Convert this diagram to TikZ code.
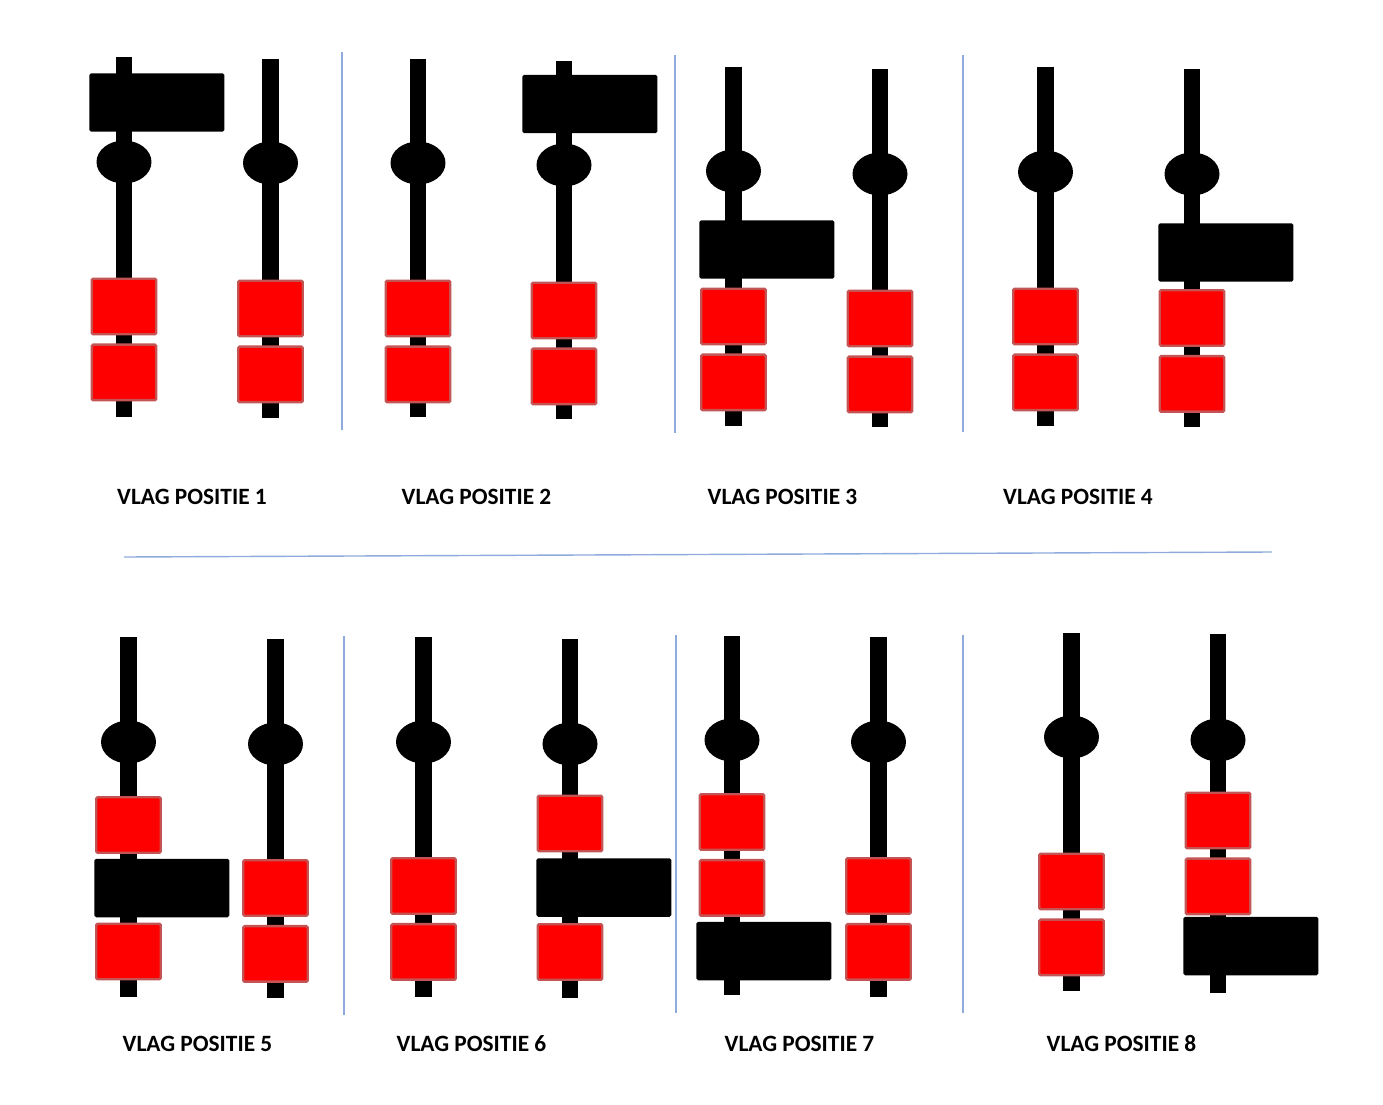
\documentclass[tikz,border=0pt]{standalone}
\usepackage{fontspec}
\setmainfont{Carlito}
\usetikzlibrary{shapes.geometric,positioning}
\definecolor{blokrand}{RGB}{196,84,84}
\definecolor{lijnblauw}{RGB}{143,170,220}

\begin{document}
\begin{tikzpicture}[
    x=0.02cm, y=-0.02cm,
    font=\fontsize{13.3}{15}\selectfont\bfseries,
    node distance=1.6mm,
    mast/.style={line width=9.6pt, line cap=butt, black},
    knop/.style={ellipse, fill=black, minimum width=1.1cm, minimum height=0.86cm, inner sep=0pt},
    blok/.style={draw=blokrand, fill=red, line width=1.4pt, rounded corners=0.8pt, minimum width=1.29cm, minimum height=1.11cm, inner sep=0pt},
    vlag/.style={fill=black, rounded corners=1pt, minimum width=2.7cm, minimum height=1.17cm, inner sep=0pt, anchor=west},
    scheiding/.style={draw=lijnblauw, line width=0.8pt},
    bijschrift/.style={inner sep=0pt}
]
\useasboundingbox (0,0) rectangle (1383,1105);

% masten met knop
\foreach \n/\x/\t/\b/\k in {1a/124/57/417/162, 1b/270.5/59/418/163,
    2a/418/59/417/163, 2b/564/61/419/165,
    3a/733.5/67/426/171, 3b/880/69/427/174,
    4a/1045.5/67/426/172, 4b/1192/69/427/174,
    5a/128.5/637/997/742, 5b/275.5/639/998/744,
    6a/423.5/637/997/742, 6b/570/639/998/744,
    7a/732/636/995/740, 7b/878.5/637/997/742,
    8a/1071.5/633/991/737, 8b/1218/634/993/740} {
  \coordinate (\n-top) at (\x,\t);
  \coordinate (\n-bot) at (\x,\b);
  \draw[mast] (\n-top) -- (\n-bot);
  \node[knop] (\n-knop) at (\x,\k) {};
}

% positie 1
\node[vlag] (1a-vlag) at (89,102.5) {};
\node[blok] (1a-r1) at (124,306.5) {};
\node[blok, below=of 1a-r1] (1a-r2) {};
\node[blok] (1b-r1) at (270.5,308.5) {};
\node[blok, below=of 1b-r1] (1b-r2) {};

% positie 2
\node[blok] (2a-r1) at (418,308.5) {};
\node[blok, below=of 2a-r1] (2a-r2) {};
\node[vlag] (2b-vlag) at (522,104) {};
\node[blok] (2b-r1) at (564,310.5) {};
\node[blok, below=of 2b-r1] (2b-r2) {};

% positie 3
\node[vlag] (3a-vlag) at (699,249.5) {};
\node[blok] (3a-r1) at (733.5,316.5) {};
\node[blok, below=of 3a-r1] (3a-r2) {};
\node[blok] (3b-r1) at (880,318.5) {};
\node[blok, below=of 3b-r1] (3b-r2) {};

% positie 4
\node[blok] (4a-r1) at (1045.5,316.5) {};
\node[blok, below=of 4a-r1] (4a-r2) {};
\node[vlag] (4b-vlag) at (1158,252.5) {};
\node[blok] (4b-r1) at (1192,318) {};
\node[blok, below=of 4b-r1] (4b-r2) {};

% positie 5
\node[blok] (5a-r1) at (128.5,825) {};
\node[vlag] (5a-vlag) at (94,888) {};
\node[blok] (5a-r2) at (128.5,951.5) {};
\node[blok] (5b-r1) at (275.5,888) {};
\node[blok, below=of 5b-r1] (5b-r2) {};

% positie 6
\node[blok] (6a-r1) at (423.5,886) {};
\node[blok, below=of 6a-r1] (6a-r2) {};
\node[blok] (6b-r1) at (570,823.5) {};
\node[vlag] (6b-vlag) at (536,887.5) {};
\node[blok] (6b-r2) at (570,952) {};

% positie 7
\node[blok] (7a-r1) at (732,822) {};
\node[blok, below=of 7a-r1] (7a-r2) {};
\node[vlag] (7a-vlag) at (696,951) {};
\node[blok] (7b-r1) at (878.5,886) {};
\node[blok, below=of 7b-r1] (7b-r2) {};

% positie 8
\node[blok] (8a-r1) at (1071.5,881.5) {};
\node[blok, below=of 8a-r1] (8a-r2) {};
\node[blok] (8b-r1) at (1218,820.5) {};
\node[blok, below=of 8b-r1] (8b-r2) {};
\node[vlag] (8b-vlag) at (1183,946) {};

% scheidingslijnen
\draw[scheiding] (342,52) -- (342,430);
\draw[scheiding] (675,55) -- (675,433);
\draw[scheiding] (963,55) -- (963,432);
\draw[scheiding] (344,636) -- (344,1015);
\draw[scheiding] (676,635) -- (676,1013);
\draw[scheiding] (963,635) -- (963,1013);
\draw[scheiding] (124,557) -- (1272,552);

% bijschriften
\node[bijschrift] (t1) at (192,497) {VLAG POSITIE 1};
\node[bijschrift] (t2) at (476.5,497) {VLAG POSITIE 2};
\node[bijschrift] (t3) at (782.5,497) {VLAG POSITIE 3};
\node[bijschrift] (t4) at (1078,497) {VLAG POSITIE 4};
\node[bijschrift] (t5) at (197.5,1044) {VLAG POSITIE 5};
\node[bijschrift] (t6) at (471.5,1044) {VLAG POSITIE 6};
\node[bijschrift] (t7) at (799.5,1044) {VLAG POSITIE 7};
\node[bijschrift] (t8) at (1121.5,1044) {VLAG POSITIE 8};
\end{tikzpicture}
\end{document}
